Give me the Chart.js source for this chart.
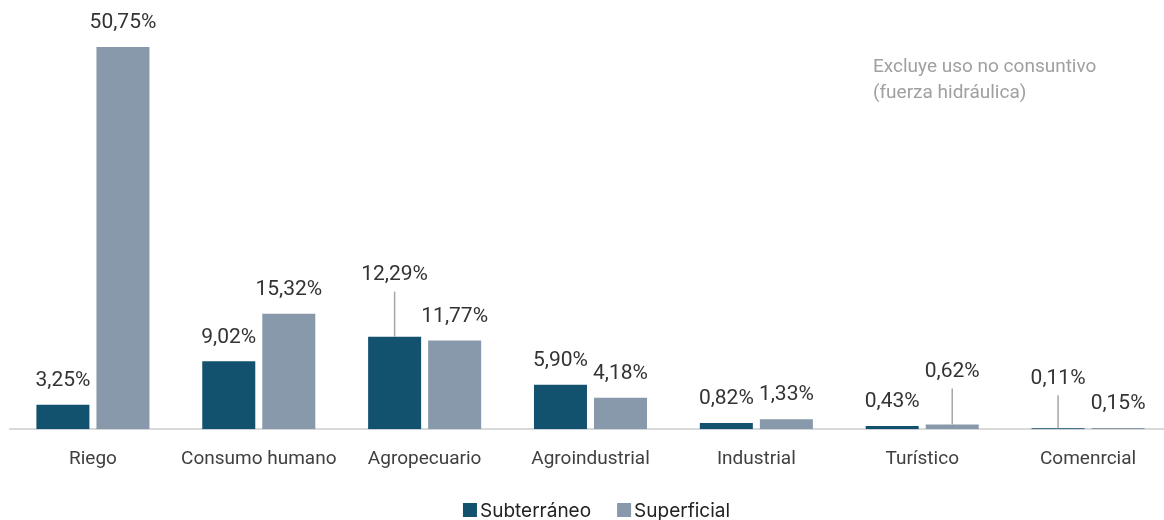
<!DOCTYPE html>
<html>
<head>
<meta charset="utf-8">
<script src="https://cdn.jsdelivr.net/npm/chart.js@4.4.1/dist/chart.umd.min.js"></script>
<style>
  html, body { margin: 0; padding: 0; background: #fff; overflow: hidden; }
  #wrap { position: relative; width: 1172px; height: 520px; }
</style>
</head>
<body>
<div id="wrap"><canvas id="usos"></canvas></div>
<script>
const categorias = ["Riego", "Consumo humano", "Agropecuario", "Agroindustrial", "Industrial", "Turístico", "Comenrcial"];
const subterraneo = [3.25, 9.02, 12.29, 5.90, 0.82, 0.43, 0.11];
const superficial = [50.75, 15.32, 11.77, 4.18, 1.33, 0.62, 0.15];
const series = ["Subterráneo", "Superficial"];
const colores = ["#13526f", "#8799aa"];
const nota = ["Excluye uso no consuntivo", "(fuerza hidráulica)"];

// extra lift (px) for labels that would overlap; drawn with a leader line
const elevar = [
  [0, 0, 38, 0, 0, 0, 26],
  [0, 0, 0, 0, 0, 29, 0]
];

const fmt = v => v.toFixed(2).replace(".", ",") + "%";
const FONT = "Roboto, 'Noto Sans', sans-serif";
const FONT_LEY = "Inter, 'Liberation Sans', sans-serif";

const etiquetas = {
  id: "etiquetas",
  afterDatasetsDraw(chart) {
    const ctx = chart.ctx;
    ctx.save();
    ctx.font = "21px " + FONT;
    ctx.textAlign = "center";
    ctx.textBaseline = "middle";
    chart.data.datasets.forEach((ds, i) => {
      chart.getDatasetMeta(i).data.forEach((bar, j) => {
        const lift = elevar[i][j];
        const y = bar.y - 24 - lift;
        if (lift > 0) {
          ctx.strokeStyle = "#a6a6a6";
          ctx.lineWidth = 1.5;
          ctx.beginPath();
          ctx.moveTo(bar.x, y + 17);
          ctx.lineTo(bar.x, bar.y);
          ctx.stroke();
        }
        ctx.fillStyle = "#333333";
        ctx.fillText(fmt(ds.data[j]), bar.x, y);
      });
    });

    // note in the upper right
    ctx.font = "19px " + FONT;
    ctx.fillStyle = "#a0a0a0";
    ctx.textAlign = "left";
    nota.forEach((t, k) => ctx.fillText(t, 873, 67 + k * 26));

    // legend along the bottom
    ctx.font = "19px " + FONT_LEY;
    const anchos = chart.data.datasets.map(ds => ctx.measureText(ds.label).width);
    const total = anchos.reduce((a, w) => a + 17 + w, 0) + 25;
    let x = 596 - total / 2;
    chart.data.datasets.forEach((ds, i) => {
      ctx.fillStyle = ds.backgroundColor;
      ctx.fillRect(x, 503, 14, 14);
      ctx.fillStyle = "#222";
      ctx.fillText(ds.label, x + 17, 511);
      x += 17 + anchos[i] + 26;
    });
    ctx.restore();
  }
};

new Chart(document.getElementById("usos"), {
  type: "bar",
  data: {
    labels: categorias,
    datasets: [
      { label: series[0], data: subterraneo, backgroundColor: colores[0] },
      { label: series[1], data: superficial, backgroundColor: colores[1] }
    ]
  },
  options: {
    responsive: true,
    maintainAspectRatio: false,
    animation: false,
    layout: { padding: { top: 15, left: 10, right: 1, bottom: 30 } },
    datasets: { bar: { categoryPercentage: 0.724, barPercentage: 0.883 } },
    scales: {
      x: {
        grid: { display: false, drawTicks: false },
        border: { color: "#d9d9d9", width: 2 },
        ticks: { color: "#404040", font: { family: FONT, size: 19 }, padding: 19 }
      },
      y: { display: false, min: 0, max: 55 }
    },
    plugins: {
      legend: { display: false },
      tooltip: { enabled: false }
    }
  },
  plugins: [etiquetas]
});
</script>
</body>
</html>
